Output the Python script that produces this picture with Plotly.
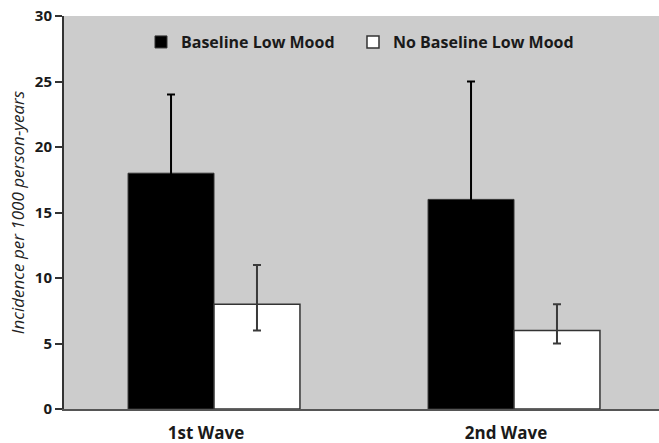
import plotly.graph_objects as go

categories = ["1st Wave", "2nd Wave"]
low_mood = [18, 16]
low_mood_plus = [6, 9]
low_mood_minus = [6, 9]
no_low_mood = [8, 6]
no_low_mood_plus = [3, 2]
no_low_mood_minus = [2, 1]
y_ticks = [0, 5, 10, 15, 20, 25, 30]

x = list(range(len(categories)))

fig = go.Figure()
fig.add_trace(go.Bar(
    x=x, y=low_mood, name="Baseline Low Mood", legend="legend",
    marker=dict(color="black", line=dict(color="#333333", width=1)),
    error_y=dict(type="data", array=low_mood_plus, arrayminus=low_mood_minus,
                 color="#000000", thickness=2, width=4),
))
fig.add_trace(go.Bar(
    x=x, y=no_low_mood, name="No Baseline Low Mood", legend="legend2",
    marker=dict(color="white", line=dict(color="#333333", width=1.5)),
    error_y=dict(type="data", array=no_low_mood_plus, arrayminus=no_low_mood_minus,
                 color="#3a3a3a", thickness=2, width=4),
))

legend_common = dict(orientation="h", yanchor="top", xanchor="left", y=0.977,
                     bgcolor="rgba(0,0,0,0)", itemwidth=30,
                     font=dict(size=16, family="Open Sans", weight="bold", color="#1a1a1a"))

fig.update_layout(
    width=659, height=443,
    margin=dict(l=64, r=0, t=16, b=34),
    paper_bgcolor="white", plot_bgcolor="#cccccc",
    barmode="group", bargap=0.427, bargroupgap=0,
    font=dict(family="Open Sans", color="#1a1a1a"),
    showlegend=True,
    legend=dict(x=0.1294, **legend_common),
    legend2=dict(x=0.4857, **legend_common),
    xaxis=dict(tickmode="array", tickvals=x, ticktext=categories,
               range=[-0.5, 1.5 - 5/300], showgrid=False, zeroline=False,
               showline=True, linecolor="#555555", linewidth=1.5,
               ticks="", ticklabelshift=-8, ticklabelstandoff=8,
               tickfont=dict(size=17, family="Open Sans", weight="bold", color="#1a1a1a")),
    yaxis=dict(range=[0, 30], tickvals=y_ticks, showgrid=False, zeroline=False,
               showline=True, linecolor="#333333", linewidth=2,
               ticks="outside", ticklen=7, tickwidth=2, tickcolor="#333333",
               tickfont=dict(size=15, family="Open Sans", weight="bold", color="#1a1a1a"),
               title=dict(text="<i>Incidence per 1000 person-years</i>",
                          font=dict(size=17, family="Open Sans", color="#222222"), standoff=6)),
)

fig.write_html("out.html", config={"displayModeBar": False},
               post_script="document.body.style.margin='0';document.body.style.padding='0';")
